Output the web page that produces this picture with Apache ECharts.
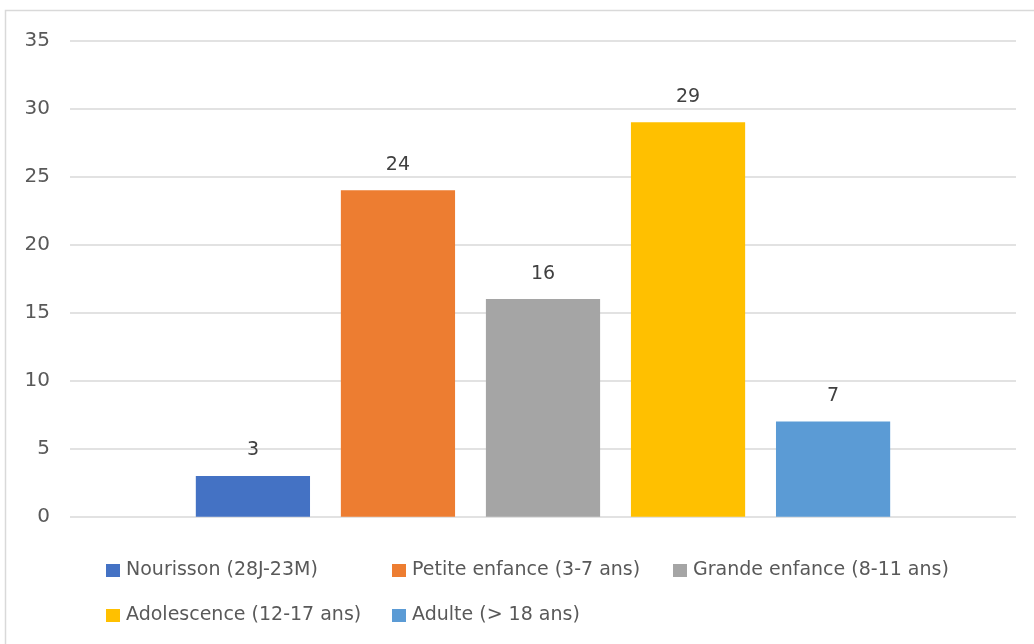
<!DOCTYPE html>
<html>
<head>
<meta charset="utf-8">
<script src="https://cdn.jsdelivr.net/npm/echarts@6/dist/echarts.min.js"></script>
<style>
  html, body { margin: 0; padding: 0; background: #fff; }
  #chart { width: 1034px; height: 644px; }
</style>
</head>
<body>
<div id="chart"></div>
<script>
// Répartition par tranche d'âge
const seriesNames = [
  'Nourisson (28J-23M)',
  'Petite enfance (3-7 ans)',
  'Grande enfance (8-11 ans)',
  'Adolescence (12-17 ans)',
  'Adulte (> 18 ans)'
];
const seriesValues = [3, 24, 16, 29, 7];
const seriesColors = ['#4472C4', '#ED7D31', '#A5A5A5', '#FFC000', '#5B9BD5'];
const yTicks = { min: 0, max: 35, interval: 5 };

const FONT = 'DejaVu Sans';

const chart = echarts.init(document.getElementById('chart'), null, { renderer: 'canvas' });

// legend slots: two rows, three columns
const legendSlots = [
  { left: 106, top: 561 },
  { left: 392, top: 561 },
  { left: 673, top: 561 },
  { left: 106, top: 606 },
  { left: 392, top: 606 }
];

const legends = seriesNames.map((name, i) => ({
  data: [name],
  left: legendSlots[i].left,
  top: legendSlots[i].top,
  padding: 0,
  itemWidth: 14,
  itemHeight: 13,
  icon: 'rect',
  selectedMode: false,
  textStyle: { fontFamily: FONT, fontSize: 19, color: '#595959', padding: [0, 0, 0, 1] }
}));

chart.setOption({
  animation: false,
  backgroundColor: '#fff',
  textStyle: { fontFamily: FONT },
  graphic: [{
    type: 'rect',
    shape: { x: 5.5, y: 10.5, width: 1100, height: 700 },
    style: { fill: 'none', stroke: '#d9d9d9', lineWidth: 1.5 },
    silent: true,
    z: -1
  }],
  legend: legends,
  grid: { left: 70, right: 18, top: 40.7, bottom: 127.3, containLabel: false },
  xAxis: {
    type: 'category',
    data: [''],
    axisLine: { show: false },
    axisTick: { show: false },
    axisLabel: { show: false }
  },
  yAxis: {
    type: 'value',
    min: yTicks.min,
    max: yTicks.max,
    interval: yTicks.interval,
    axisLine: { show: false },
    axisTick: { show: false },
    axisLabel: { fontFamily: FONT, fontSize: 20, color: '#595959', margin: 20 },
    splitLine: { lineStyle: { color: '#d9d9d9', width: 1.5 } }
  },
  series: seriesNames.map((name, i) => ({
    name: name,
    type: 'bar',
    data: [seriesValues[i]],
    barGap: '27%',
    barCategoryGap: '26.6%',
    itemStyle: { color: seriesColors[i] },
    label: {
      show: true,
      position: 'top',
      distance: 16,
      fontFamily: FONT,
      fontSize: 19,
      color: '#404040'
    }
  }))
});
</script>
</body>
</html>
